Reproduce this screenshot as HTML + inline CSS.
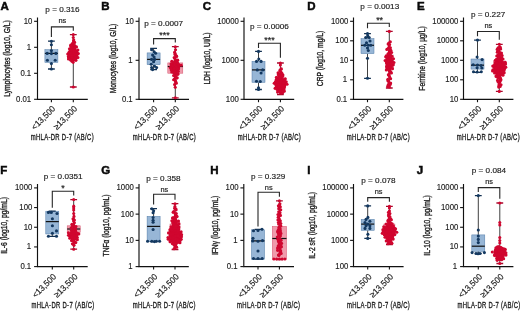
<!DOCTYPE html>
<html><head><meta charset="utf-8"><style>
html,body{margin:0;padding:0;background:#fff;}
svg{display:block;font-family:"Liberation Sans", sans-serif;filter:blur(0.3px);}
text{fill:#1c1c1c;stroke:#1c1c1c;stroke-width:0.18px;}
text.yl{stroke-width:0.35px;} text.pv{stroke-width:0.16px;} text.tk{stroke-width:0.14px;} text.xl{stroke-width:0.35px;}
text.L{fill:#0a0a0a;stroke:#0a0a0a;stroke-width:0.5px;}
</style></head><body>
<svg width="520" height="311" viewBox="0 0 520 311">
<rect width="520" height="311" fill="#fff"/>
<text x="0.61" y="9.9" font-size="11.5" font-weight="bold" class="L">A</text>
<text transform="translate(9.6,58.5) rotate(-90) scale(0.8,1)" text-anchor="middle" font-size="8.4" class="yl">Lymphocytes (log10, G/L)</text>
<path d="M37.5,17.5 V99.3 H87.8" fill="none" stroke="#111" stroke-width="1.15"/>
<path d="M34.1,21.30 H37.5" stroke="#111" stroke-width="1.1"/>
<text transform="translate(32.3,23.80) scale(0.95,1)" text-anchor="end" font-size="8.2" class="tk">10</text>
<path d="M34.1,47.30 H37.5" stroke="#111" stroke-width="1.1"/>
<text transform="translate(31.2,49.80) scale(0.95,1)" text-anchor="end" font-size="8.2" class="tk">1</text>
<path d="M34.1,73.30 H37.5" stroke="#111" stroke-width="1.1"/>
<text transform="translate(31.2,75.80) scale(0.95,1)" text-anchor="end" font-size="8.2" class="tk">0.1</text>
<path d="M34.1,99.30 H37.5" stroke="#111" stroke-width="1.1"/>
<text transform="translate(31.2,101.80) scale(0.95,1)" text-anchor="end" font-size="8.2" class="tk">0.01</text>
<path d="M51.4,99.3 V102.2" stroke="#111" stroke-width="1.1"/>
<path d="M73.3,99.3 V102.2" stroke="#111" stroke-width="1.1"/>
<text transform="translate(55.8,109.39999999999999) rotate(-45) scale(0.95,1)" text-anchor="end" font-size="8.6">&lt;13,500</text>
<text transform="translate(77.7,109.39999999999999) rotate(-45) scale(0.95,1)" text-anchor="end" font-size="8.6">≥13,500</text>
<text transform="translate(62.349999999999994,140.4) scale(0.63,1)" text-anchor="middle" font-size="9.4" letter-spacing="0.5" class="xl">mHLA-DR D-7 (AB/C)</text>
<text transform="translate(62.5,12.4) scale(1.05,1)" text-anchor="middle" font-size="7.8" class="pv">p = 0.316</text>
<text x="62.349999999999994" y="23.0" text-anchor="middle" font-size="7.4">ns</text>
<path d="M51.4,37.1 V26.9 H73.3 V30.7" fill="none" stroke="#262626" stroke-width="1.1"/>
<path d="M51.4,41.2 V49.7 M51.4,62.4 V69" stroke="#2a2a2a" stroke-width="0.9"/>
<rect x="44.9" y="49.7" width="13.0" height="12.699999999999996" fill="#97b6d6" stroke="#4f7aa6" stroke-width="0.5"/>
<path d="M44.9,53.4 H57.9" stroke="#111" stroke-width="1.2"/>
<path d="M48.0,41.2 H54.8 M48.0,69 H54.8" stroke="#123052" stroke-width="1.3"/>
<circle cx="51.40" cy="41.20" r="1.55" fill="#133860"/>
<circle cx="51.40" cy="44.70" r="1.55" fill="#133860"/>
<circle cx="51.40" cy="50.60" r="1.55" fill="#133860"/>
<circle cx="47.20" cy="53.40" r="1.55" fill="#133860"/>
<circle cx="51.40" cy="53.60" r="1.55" fill="#133860"/>
<circle cx="55.90" cy="53.40" r="1.55" fill="#133860"/>
<circle cx="47.40" cy="60.30" r="1.55" fill="#133860"/>
<circle cx="55.20" cy="60.30" r="1.55" fill="#133860"/>
<circle cx="51.40" cy="63.60" r="1.55" fill="#133860"/>
<circle cx="51.40" cy="69.00" r="1.55" fill="#133860"/>
<path d="M73.3,34.6 V50 M73.3,59 V87" stroke="#2a2a2a" stroke-width="0.9"/>
<rect x="68.8" y="50" width="9" height="9" fill="#ef9aab" stroke="#d8506c" stroke-width="0.5"/>
<path d="M68.8,54 H77.8" stroke="#111" stroke-width="1.2"/>
<path d="M69.89999999999999,34.6 H76.7 M69.89999999999999,87 H76.7" stroke="#a8082c" stroke-width="1.3"/>
<path d="M73.00,39.00 L73.00,41.00 L72.75,43.00 L71.49,46.00 L70.12,49.00 L69.08,52.00 L68.55,55.00 L69.08,58.00 L70.65,60.00 L72.75,62.00 L73.00,64.00 L73.60,64.00 L73.85,62.00 L75.95,60.00 L77.52,58.00 L78.05,55.00 L77.52,52.00 L76.47,49.00 L75.11,46.00 L73.85,43.00 L73.60,41.00 L73.60,39.00 Z" fill="#d0062f"/>
<circle cx="71.36" cy="52.91" r="1.55" fill="#d0062f"/>
<circle cx="74.69" cy="48.03" r="1.55" fill="#d0062f"/>
<circle cx="68.79" cy="57.22" r="1.55" fill="#d0062f"/>
<circle cx="73.00" cy="44.66" r="1.55" fill="#d0062f"/>
<circle cx="76.73" cy="55.03" r="1.55" fill="#d0062f"/>
<circle cx="70.42" cy="50.66" r="1.55" fill="#d0062f"/>
<circle cx="73.79" cy="59.59" r="1.55" fill="#d0062f"/>
<circle cx="74.65" cy="42.41" r="1.55" fill="#d0062f"/>
<circle cx="67.73" cy="54.03" r="1.55" fill="#d0062f"/>
<circle cx="72.07" cy="49.41" r="1.55" fill="#d0062f"/>
<circle cx="75.50" cy="58.34" r="1.55" fill="#d0062f"/>
<circle cx="70.86" cy="46.47" r="1.55" fill="#d0062f"/>
<circle cx="73.08" cy="56.09" r="1.55" fill="#d0062f"/>
<circle cx="76.82" cy="51.78" r="1.55" fill="#d0062f"/>
<circle cx="71.92" cy="61.16" r="1.55" fill="#d0062f"/>
<circle cx="73.51" cy="40.91" r="1.55" fill="#d0062f"/>
<circle cx="78.34" cy="53.47" r="1.55" fill="#d0062f"/>
<circle cx="69.48" cy="48.72" r="1.55" fill="#d0062f"/>
<circle cx="72.24" cy="57.78" r="1.55" fill="#d0062f"/>
<circle cx="74.79" cy="45.66" r="1.55" fill="#d0062f"/>
<circle cx="69.47" cy="55.59" r="1.55" fill="#d0062f"/>
<circle cx="73.50" cy="51.22" r="1.55" fill="#d0062f"/>
<circle cx="75.92" cy="60.34" r="1.55" fill="#d0062f"/>
<circle cx="72.38" cy="43.66" r="1.55" fill="#d0062f"/>
<circle cx="74.88" cy="54.53" r="1.55" fill="#d0062f"/>
<circle cx="77.91" cy="50.03" r="1.55" fill="#d0062f"/>
<circle cx="68.47" cy="58.91" r="1.55" fill="#d0062f"/>
<circle cx="72.12" cy="47.28" r="1.55" fill="#d0062f"/>
<circle cx="75.41" cy="56.66" r="1.55" fill="#d0062f"/>
<circle cx="68.99" cy="52.34" r="1.55" fill="#d0062f"/>
<circle cx="73.15" cy="62.28" r="1.55" fill="#d0062f"/>
<circle cx="73.79" cy="40.03" r="1.55" fill="#d0062f"/>
<circle cx="70.18" cy="53.22" r="1.55" fill="#d0062f"/>
<circle cx="73.89" cy="48.41" r="1.55" fill="#d0062f"/>
<circle cx="77.92" cy="57.47" r="1.55" fill="#d0062f"/>
<circle cx="70.69" cy="45.16" r="1.55" fill="#d0062f"/>
<circle cx="71.86" cy="55.34" r="1.55" fill="#d0062f"/>
<circle cx="75.59" cy="50.97" r="1.55" fill="#d0062f"/>
<circle cx="70.51" cy="59.97" r="1.55" fill="#d0062f"/>
<circle cx="73.28" cy="43.03" r="1.55" fill="#d0062f"/>
<circle cx="77.27" cy="54.28" r="1.55" fill="#d0062f"/>
<circle cx="71.08" cy="49.72" r="1.55" fill="#d0062f"/>
<circle cx="74.38" cy="58.66" r="1.55" fill="#d0062f"/>
<circle cx="76.51" cy="46.91" r="1.55" fill="#d0062f"/>
<circle cx="68.39" cy="56.41" r="1.55" fill="#d0062f"/>
<circle cx="73.30" cy="34.60" r="1.55" fill="#d0062f"/>
<circle cx="73.30" cy="37.50" r="1.55" fill="#d0062f"/>
<circle cx="73.30" cy="87.00" r="1.55" fill="#d0062f"/>
<text x="101.13" y="9.9" font-size="11.5" font-weight="bold" class="L">B</text>
<text transform="translate(116.1,58.5) rotate(-90) scale(0.8,1)" text-anchor="middle" font-size="8.4" class="yl">Monocytes (log10, G/L)</text>
<path d="M139,17.5 V99.3 H189" fill="none" stroke="#111" stroke-width="1.15"/>
<path d="M135.6,21.30 H139" stroke="#111" stroke-width="1.1"/>
<text transform="translate(133.8,23.80) scale(0.95,1)" text-anchor="end" font-size="8.2" class="tk">10</text>
<path d="M135.6,60.30 H139" stroke="#111" stroke-width="1.1"/>
<text transform="translate(132.7,62.80) scale(0.95,1)" text-anchor="end" font-size="8.2" class="tk">1</text>
<path d="M135.6,99.30 H139" stroke="#111" stroke-width="1.1"/>
<text transform="translate(132.7,101.80) scale(0.95,1)" text-anchor="end" font-size="8.2" class="tk">0.1</text>
<path d="M153.6,99.3 V102.2" stroke="#111" stroke-width="1.1"/>
<path d="M175.3,99.3 V102.2" stroke="#111" stroke-width="1.1"/>
<text transform="translate(158.0,109.39999999999999) rotate(-45) scale(0.95,1)" text-anchor="end" font-size="8.6">&lt;13,500</text>
<text transform="translate(179.70000000000002,109.39999999999999) rotate(-45) scale(0.95,1)" text-anchor="end" font-size="8.6">≥13,500</text>
<text transform="translate(164.45,140.4) scale(0.63,1)" text-anchor="middle" font-size="9.4" letter-spacing="0.5" class="xl">mHLA-DR D-7 (AB/C)</text>
<text transform="translate(163.7,25.5) scale(1.05,1)" text-anchor="middle" font-size="7.8" class="pv">p = 0.0007</text>
<text x="164.45" y="38.300000000000004" text-anchor="middle" font-size="8.9">***</text>
<path d="M153.6,44.6 V38.6 H175.3 V42.6" fill="none" stroke="#262626" stroke-width="1.1"/>
<path d="M153.6,48.3 V52.9 M153.6,64.7 V69.6" stroke="#2a2a2a" stroke-width="0.9"/>
<rect x="147.1" y="52.9" width="13.0" height="11.800000000000004" fill="#97b6d6" stroke="#4f7aa6" stroke-width="0.5"/>
<path d="M147.1,59.4 H160.1" stroke="#111" stroke-width="1.2"/>
<path d="M150.2,48.3 H157.0 M150.2,69.6 H157.0" stroke="#123052" stroke-width="1.3"/>
<circle cx="151.60" cy="49.80" r="1.55" fill="#133860"/>
<circle cx="154.10" cy="51.70" r="1.55" fill="#133860"/>
<circle cx="155.60" cy="53.20" r="1.55" fill="#133860"/>
<circle cx="152.60" cy="55.10" r="1.55" fill="#133860"/>
<circle cx="154.10" cy="57.00" r="1.55" fill="#133860"/>
<circle cx="151.60" cy="59.40" r="1.55" fill="#133860"/>
<circle cx="154.60" cy="59.40" r="1.55" fill="#133860"/>
<circle cx="153.60" cy="61.80" r="1.55" fill="#133860"/>
<circle cx="151.20" cy="64.30" r="1.55" fill="#133860"/>
<circle cx="154.60" cy="66.20" r="1.55" fill="#133860"/>
<circle cx="151.60" cy="67.60" r="1.55" fill="#133860"/>
<circle cx="156.60" cy="67.60" r="1.55" fill="#133860"/>
<circle cx="152.60" cy="69.60" r="1.55" fill="#133860"/>
<path d="M175.3,46.7 V62.9 M175.3,73.2 V97.8" stroke="#2a2a2a" stroke-width="0.9"/>
<rect x="167.8" y="62.9" width="15" height="10.300000000000004" fill="#ef9aab" stroke="#d8506c" stroke-width="0.5"/>
<path d="M167.8,66.5 H182.8" stroke="#111" stroke-width="1.2"/>
<path d="M171.9,46.7 H178.70000000000002 M171.9,97.8 H178.70000000000002" stroke="#a8082c" stroke-width="1.3"/>
<path d="M175.00,49.40 L175.00,53.00 L174.96,58.00 L172.65,62.00 L170.76,64.00 L170.34,67.00 L171.60,70.00 L173.28,73.00 L174.54,77.00 L175.00,81.00 L175.00,85.00 L175.00,88.00 L175.60,88.00 L175.60,85.00 L175.60,81.00 L176.06,77.00 L177.32,73.00 L179.00,70.00 L180.26,67.00 L179.84,64.00 L177.95,62.00 L175.64,58.00 L175.60,53.00 L175.60,49.40 Z" fill="#d0062f"/>
<circle cx="177.52" cy="71.06" r="1.55" fill="#d0062f"/>
<circle cx="171.44" cy="65.66" r="1.55" fill="#d0062f"/>
<circle cx="175.37" cy="80.81" r="1.55" fill="#d0062f"/>
<circle cx="176.29" cy="55.72" r="1.55" fill="#d0062f"/>
<circle cx="173.17" cy="69.52" r="1.55" fill="#d0062f"/>
<circle cx="176.91" cy="64.31" r="1.55" fill="#d0062f"/>
<circle cx="177.25" cy="77.72" r="1.55" fill="#d0062f"/>
<circle cx="171.78" cy="61.22" r="1.55" fill="#d0062f"/>
<circle cx="174.24" cy="72.90" r="1.55" fill="#d0062f"/>
<circle cx="177.64" cy="66.91" r="1.55" fill="#d0062f"/>
<circle cx="174.55" cy="84.57" r="1.55" fill="#d0062f"/>
<circle cx="175.22" cy="53.69" r="1.55" fill="#d0062f"/>
<circle cx="178.61" cy="68.84" r="1.55" fill="#d0062f"/>
<circle cx="172.36" cy="63.63" r="1.55" fill="#d0062f"/>
<circle cx="175.65" cy="76.28" r="1.55" fill="#d0062f"/>
<circle cx="177.75" cy="60.16" r="1.55" fill="#d0062f"/>
<circle cx="171.68" cy="71.93" r="1.55" fill="#d0062f"/>
<circle cx="173.88" cy="66.24" r="1.55" fill="#d0062f"/>
<circle cx="175.88" cy="82.55" r="1.55" fill="#d0062f"/>
<circle cx="174.17" cy="57.46" r="1.55" fill="#d0062f"/>
<circle cx="175.28" cy="70.29" r="1.55" fill="#d0062f"/>
<circle cx="179.35" cy="64.98" r="1.55" fill="#d0062f"/>
<circle cx="174.47" cy="79.17" r="1.55" fill="#d0062f"/>
<circle cx="176.23" cy="62.19" r="1.55" fill="#d0062f"/>
<circle cx="178.09" cy="73.96" r="1.55" fill="#d0062f"/>
<circle cx="170.23" cy="67.49" r="1.55" fill="#d0062f"/>
<circle cx="175.25" cy="87.18" r="1.55" fill="#d0062f"/>
<circle cx="175.54" cy="49.74" r="1.55" fill="#d0062f"/>
<circle cx="171.68" cy="67.78" r="1.55" fill="#d0062f"/>
<circle cx="175.62" cy="62.48" r="1.55" fill="#d0062f"/>
<circle cx="177.53" cy="74.35" r="1.55" fill="#d0062f"/>
<circle cx="174.63" cy="58.04" r="1.55" fill="#d0062f"/>
<circle cx="176.71" cy="70.58" r="1.55" fill="#d0062f"/>
<circle cx="181.20" cy="65.27" r="1.55" fill="#d0062f"/>
<circle cx="173.64" cy="79.75" r="1.55" fill="#d0062f"/>
<circle cx="174.97" cy="54.47" r="1.55" fill="#d0062f"/>
<circle cx="177.45" cy="69.13" r="1.55" fill="#d0062f"/>
<circle cx="171.05" cy="63.92" r="1.55" fill="#d0062f"/>
<circle cx="175.18" cy="76.76" r="1.55" fill="#d0062f"/>
<circle cx="177.29" cy="60.55" r="1.55" fill="#d0062f"/>
<circle cx="173.39" cy="72.32" r="1.55" fill="#d0062f"/>
<circle cx="176.37" cy="66.53" r="1.55" fill="#d0062f"/>
<circle cx="176.30" cy="83.32" r="1.55" fill="#d0062f"/>
<circle cx="174.57" cy="52.34" r="1.55" fill="#d0062f"/>
<circle cx="174.13" cy="68.46" r="1.55" fill="#d0062f"/>
<circle cx="177.75" cy="63.25" r="1.55" fill="#d0062f"/>
<circle cx="173.58" cy="75.50" r="1.55" fill="#d0062f"/>
<circle cx="175.35" cy="59.39" r="1.55" fill="#d0062f"/>
<circle cx="178.31" cy="71.35" r="1.55" fill="#d0062f"/>
<circle cx="172.66" cy="65.85" r="1.55" fill="#d0062f"/>
<circle cx="175.66" cy="81.49" r="1.55" fill="#d0062f"/>
<circle cx="176.67" cy="56.40" r="1.55" fill="#d0062f"/>
<circle cx="171.16" cy="69.81" r="1.55" fill="#d0062f"/>
<circle cx="174.53" cy="64.60" r="1.55" fill="#d0062f"/>
<circle cx="176.38" cy="78.21" r="1.55" fill="#d0062f"/>
<circle cx="175.30" cy="46.70" r="1.55" fill="#d0062f"/>
<circle cx="175.30" cy="97.80" r="1.55" fill="#d0062f"/>
<text x="202.73" y="9.9" font-size="11.5" font-weight="bold" class="L">C</text>
<text transform="translate(210.4,58.5) rotate(-90) scale(0.8,1)" text-anchor="middle" font-size="8.4" class="yl">LDH (log10, UI/L)</text>
<path d="M244,17.5 V99.3 H294.2" fill="none" stroke="#111" stroke-width="1.15"/>
<path d="M240.6,21.30 H244" stroke="#111" stroke-width="1.1"/>
<text transform="translate(238.8,23.80) scale(0.95,1)" text-anchor="end" font-size="8.2" class="tk">10000</text>
<path d="M240.6,60.30 H244" stroke="#111" stroke-width="1.1"/>
<text transform="translate(238.8,62.80) scale(0.95,1)" text-anchor="end" font-size="8.2" class="tk">1000</text>
<path d="M240.6,99.30 H244" stroke="#111" stroke-width="1.1"/>
<text transform="translate(238.8,101.80) scale(0.95,1)" text-anchor="end" font-size="8.2" class="tk">100</text>
<path d="M258.5,99.3 V102.2" stroke="#111" stroke-width="1.1"/>
<path d="M280.4,99.3 V102.2" stroke="#111" stroke-width="1.1"/>
<text transform="translate(262.9,109.39999999999999) rotate(-45) scale(0.95,1)" text-anchor="end" font-size="8.6">&lt;13,500</text>
<text transform="translate(284.79999999999995,109.39999999999999) rotate(-45) scale(0.95,1)" text-anchor="end" font-size="8.6">≥13,500</text>
<text transform="translate(269.45,140.4) scale(0.63,1)" text-anchor="middle" font-size="9.4" letter-spacing="0.5" class="xl">mHLA-DR D-7 (AB/C)</text>
<text transform="translate(269.4,29.0) scale(1.05,1)" text-anchor="middle" font-size="7.8" class="pv">p = 0.0006</text>
<text x="269.45" y="42.5" text-anchor="middle" font-size="8.9">***</text>
<path d="M258.5,48 V43.3 H280.4 V57.7" fill="none" stroke="#262626" stroke-width="1.1"/>
<path d="M258.5,51.4 V61.4 M258.5,82.3 V89.5" stroke="#2a2a2a" stroke-width="0.9"/>
<rect x="252.0" y="61.4" width="13.0" height="20.9" fill="#97b6d6" stroke="#4f7aa6" stroke-width="0.5"/>
<path d="M252.0,69.9 H265.0" stroke="#111" stroke-width="1.2"/>
<path d="M255.1,51.4 H261.9 M255.1,89.5 H261.9" stroke="#123052" stroke-width="1.3"/>
<circle cx="258.50" cy="51.40" r="1.55" fill="#133860"/>
<circle cx="258.80" cy="59.10" r="1.55" fill="#133860"/>
<circle cx="256.50" cy="61.40" r="1.55" fill="#133860"/>
<circle cx="261.10" cy="61.40" r="1.55" fill="#133860"/>
<circle cx="257.30" cy="69.90" r="1.55" fill="#133860"/>
<circle cx="262.70" cy="69.90" r="1.55" fill="#133860"/>
<circle cx="261.10" cy="73.00" r="1.55" fill="#133860"/>
<circle cx="256.50" cy="81.20" r="1.55" fill="#133860"/>
<circle cx="260.30" cy="81.50" r="1.55" fill="#133860"/>
<circle cx="258.50" cy="87.70" r="1.55" fill="#133860"/>
<circle cx="258.50" cy="89.50" r="1.55" fill="#133860"/>
<path d="M280.4,63 V78 M280.4,89 V94.5" stroke="#2a2a2a" stroke-width="0.9"/>
<rect x="275.4" y="78" width="10" height="11" fill="#ef9aab" stroke="#d8506c" stroke-width="0.5"/>
<path d="M275.4,84 H285.4" stroke="#111" stroke-width="1.2"/>
<path d="M277.0,63 H283.79999999999995 M277.0,94.5 H283.79999999999995" stroke="#a8082c" stroke-width="1.3"/>
<path d="M280.10,67.00 L280.00,71.00 L278.80,74.00 L277.60,77.00 L276.40,80.00 L274.60,83.00 L274.60,86.00 L277.00,89.00 L278.20,92.00 L280.00,94.00 L280.80,94.00 L282.60,92.00 L283.80,89.00 L286.20,86.00 L286.20,83.00 L284.40,80.00 L283.20,77.00 L282.00,74.00 L280.80,71.00 L280.70,67.00 Z" fill="#d0062f"/>
<circle cx="275.60" cy="84.04" r="1.55" fill="#d0062f"/>
<circle cx="280.42" cy="79.18" r="1.55" fill="#d0062f"/>
<circle cx="283.81" cy="88.70" r="1.55" fill="#d0062f"/>
<circle cx="278.73" cy="75.88" r="1.55" fill="#d0062f"/>
<circle cx="282.00" cy="86.20" r="1.55" fill="#d0062f"/>
<circle cx="286.23" cy="81.82" r="1.55" fill="#d0062f"/>
<circle cx="277.51" cy="92.08" r="1.55" fill="#d0062f"/>
<circle cx="280.19" cy="69.80" r="1.55" fill="#d0062f"/>
<circle cx="284.18" cy="83.50" r="1.55" fill="#d0062f"/>
<circle cx="277.57" cy="78.44" r="1.55" fill="#d0062f"/>
<circle cx="280.84" cy="88.03" r="1.55" fill="#d0062f"/>
<circle cx="282.94" cy="74.93" r="1.55" fill="#d0062f"/>
<circle cx="277.75" cy="85.66" r="1.55" fill="#d0062f"/>
<circle cx="282.25" cy="81.21" r="1.55" fill="#d0062f"/>
<circle cx="284.25" cy="91.13" r="1.55" fill="#d0062f"/>
<circle cx="278.05" cy="72.70" r="1.55" fill="#d0062f"/>
<circle cx="278.46" cy="84.58" r="1.55" fill="#d0062f"/>
<circle cx="282.55" cy="79.86" r="1.55" fill="#d0062f"/>
<circle cx="277.10" cy="89.51" r="1.55" fill="#d0062f"/>
<circle cx="280.21" cy="76.82" r="1.55" fill="#d0062f"/>
<circle cx="284.53" cy="86.74" r="1.55" fill="#d0062f"/>
<circle cx="277.04" cy="82.36" r="1.55" fill="#d0062f"/>
<circle cx="280.86" cy="93.16" r="1.55" fill="#d0062f"/>
<circle cx="281.42" cy="68.92" r="1.55" fill="#d0062f"/>
<circle cx="274.18" cy="83.23" r="1.55" fill="#d0062f"/>
<circle cx="279.50" cy="78.04" r="1.55" fill="#d0062f"/>
<circle cx="283.19" cy="87.69" r="1.55" fill="#d0062f"/>
<circle cx="278.35" cy="74.46" r="1.55" fill="#d0062f"/>
<circle cx="280.61" cy="85.39" r="1.55" fill="#d0062f"/>
<circle cx="284.55" cy="80.87" r="1.55" fill="#d0062f"/>
<circle cx="278.68" cy="90.73" r="1.55" fill="#d0062f"/>
<circle cx="280.97" cy="72.10" r="1.55" fill="#d0062f"/>
<circle cx="287.04" cy="84.31" r="1.55" fill="#d0062f"/>
<circle cx="276.28" cy="79.52" r="1.55" fill="#d0062f"/>
<circle cx="279.83" cy="89.11" r="1.55" fill="#d0062f"/>
<circle cx="282.58" cy="76.35" r="1.55" fill="#d0062f"/>
<circle cx="276.53" cy="86.47" r="1.55" fill="#d0062f"/>
<circle cx="281.09" cy="82.09" r="1.55" fill="#d0062f"/>
<circle cx="282.77" cy="92.62" r="1.55" fill="#d0062f"/>
<circle cx="279.81" cy="70.68" r="1.55" fill="#d0062f"/>
<circle cx="282.75" cy="83.77" r="1.55" fill="#d0062f"/>
<circle cx="285.31" cy="78.78" r="1.55" fill="#d0062f"/>
<circle cx="275.07" cy="88.36" r="1.55" fill="#d0062f"/>
<circle cx="279.21" cy="75.40" r="1.55" fill="#d0062f"/>
<circle cx="282.83" cy="85.93" r="1.55" fill="#d0062f"/>
<circle cx="275.50" cy="81.48" r="1.55" fill="#d0062f"/>
<circle cx="279.99" cy="91.60" r="1.55" fill="#d0062f"/>
<circle cx="281.94" cy="73.31" r="1.55" fill="#d0062f"/>
<circle cx="276.40" cy="84.85" r="1.55" fill="#d0062f"/>
<circle cx="281.03" cy="80.20" r="1.55" fill="#d0062f"/>
<circle cx="283.89" cy="89.92" r="1.55" fill="#d0062f"/>
<circle cx="276.40" cy="77.23" r="1.55" fill="#d0062f"/>
<circle cx="278.77" cy="87.08" r="1.55" fill="#d0062f"/>
<circle cx="283.29" cy="82.69" r="1.55" fill="#d0062f"/>
<circle cx="280.40" cy="63.00" r="1.55" fill="#d0062f"/>
<circle cx="280.40" cy="65.00" r="1.55" fill="#d0062f"/>
<text x="307.23" y="9.9" font-size="11.5" font-weight="bold" class="L">D</text>
<text transform="translate(323.0,58.5) rotate(-90) scale(0.8,1)" text-anchor="middle" font-size="8.4" class="yl">CRP (log10, mg/L)</text>
<path d="M353.5,17.5 V99.3 H403.4" fill="none" stroke="#111" stroke-width="1.15"/>
<path d="M350.1,21.30 H353.5" stroke="#111" stroke-width="1.1"/>
<text transform="translate(348.3,23.80) scale(0.95,1)" text-anchor="end" font-size="8.2" class="tk">1000</text>
<path d="M350.1,40.80 H353.5" stroke="#111" stroke-width="1.1"/>
<text transform="translate(348.3,43.30) scale(0.95,1)" text-anchor="end" font-size="8.2" class="tk">100</text>
<path d="M350.1,60.30 H353.5" stroke="#111" stroke-width="1.1"/>
<text transform="translate(348.3,62.80) scale(0.95,1)" text-anchor="end" font-size="8.2" class="tk">10</text>
<path d="M350.1,79.80 H353.5" stroke="#111" stroke-width="1.1"/>
<text transform="translate(347.2,82.30) scale(0.95,1)" text-anchor="end" font-size="8.2" class="tk">1</text>
<path d="M350.1,99.30 H353.5" stroke="#111" stroke-width="1.1"/>
<text transform="translate(347.2,101.80) scale(0.95,1)" text-anchor="end" font-size="8.2" class="tk">0.1</text>
<path d="M367.5,99.3 V102.2" stroke="#111" stroke-width="1.1"/>
<path d="M389.3,99.3 V102.2" stroke="#111" stroke-width="1.1"/>
<text transform="translate(371.9,109.39999999999999) rotate(-45) scale(0.95,1)" text-anchor="end" font-size="8.6">&lt;13,500</text>
<text transform="translate(393.7,109.39999999999999) rotate(-45) scale(0.95,1)" text-anchor="end" font-size="8.6">≥13,500</text>
<text transform="translate(378.4,140.4) scale(0.63,1)" text-anchor="middle" font-size="9.4" letter-spacing="0.5" class="xl">mHLA-DR D-7 (AB/C)</text>
<text transform="translate(379.75,9.1) scale(1.05,1)" text-anchor="middle" font-size="7.8" class="pv">p = 0.0013</text>
<text x="379.59999999999997" y="22.9" text-anchor="middle" font-size="8.9">**</text>
<path d="M367.5,28.2 V23.3 H389.3 V26.9" fill="none" stroke="#262626" stroke-width="1.1"/>
<path d="M367.5,33.6 V38.7 M367.5,53.6 V78.3" stroke="#2a2a2a" stroke-width="0.9"/>
<rect x="361.0" y="38.7" width="13.0" height="14.899999999999999" fill="#97b6d6" stroke="#4f7aa6" stroke-width="0.5"/>
<path d="M361.0,45.3 H374.0" stroke="#111" stroke-width="1.2"/>
<path d="M364.1,33.6 H370.9 M364.1,78.3 H370.9" stroke="#123052" stroke-width="1.3"/>
<circle cx="367.50" cy="33.60" r="1.55" fill="#133860"/>
<circle cx="367.70" cy="35.80" r="1.55" fill="#133860"/>
<circle cx="365.70" cy="37.50" r="1.55" fill="#133860"/>
<circle cx="369.20" cy="37.50" r="1.55" fill="#133860"/>
<circle cx="370.00" cy="41.00" r="1.55" fill="#133860"/>
<circle cx="366.50" cy="42.70" r="1.55" fill="#133860"/>
<circle cx="364.80" cy="45.30" r="1.55" fill="#133860"/>
<circle cx="368.30" cy="45.30" r="1.55" fill="#133860"/>
<circle cx="370.80" cy="45.30" r="1.55" fill="#133860"/>
<circle cx="367.50" cy="48.00" r="1.55" fill="#133860"/>
<circle cx="368.30" cy="50.50" r="1.55" fill="#133860"/>
<circle cx="367.50" cy="58.30" r="1.55" fill="#133860"/>
<circle cx="367.50" cy="78.30" r="1.55" fill="#133860"/>
<path d="M389.3,31.4 V55 M389.3,68 V88" stroke="#2a2a2a" stroke-width="0.9"/>
<rect x="385.3" y="55" width="8" height="13" fill="#ef9aab" stroke="#d8506c" stroke-width="0.5"/>
<path d="M385.3,61 H393.3" stroke="#111" stroke-width="1.2"/>
<path d="M385.90000000000003,31.4 H392.7 M385.90000000000003,88 H392.7" stroke="#a8082c" stroke-width="1.3"/>
<path d="M389.00,41.00 L388.90,45.00 L388.30,49.00 L387.70,53.00 L386.50,57.00 L385.66,61.00 L385.90,65.00 L387.10,69.00 L388.54,73.00 L388.90,77.00 L388.90,81.00 L388.54,85.00 L389.00,88.00 L389.60,88.00 L390.06,85.00 L389.70,81.00 L389.70,77.00 L390.06,73.00 L391.50,69.00 L392.70,65.00 L392.94,61.00 L392.10,57.00 L390.90,53.00 L390.30,49.00 L389.70,45.00 L389.60,41.00 Z" fill="#d0062f"/>
<circle cx="389.11" cy="70.32" r="1.55" fill="#d0062f"/>
<circle cx="392.36" cy="61.74" r="1.55" fill="#d0062f"/>
<circle cx="388.20" cy="84.89" r="1.55" fill="#d0062f"/>
<circle cx="389.59" cy="44.47" r="1.55" fill="#d0062f"/>
<circle cx="393.33" cy="64.68" r="1.55" fill="#d0062f"/>
<circle cx="385.68" cy="56.69" r="1.55" fill="#d0062f"/>
<circle cx="388.89" cy="75.25" r="1.55" fill="#d0062f"/>
<circle cx="390.59" cy="51.40" r="1.55" fill="#d0062f"/>
<circle cx="386.94" cy="69.02" r="1.55" fill="#d0062f"/>
<circle cx="389.38" cy="60.80" r="1.55" fill="#d0062f"/>
<circle cx="390.68" cy="83.12" r="1.55" fill="#d0062f"/>
<circle cx="388.30" cy="48.23" r="1.55" fill="#d0062f"/>
<circle cx="390.33" cy="66.67" r="1.55" fill="#d0062f"/>
<circle cx="393.47" cy="58.80" r="1.55" fill="#d0062f"/>
<circle cx="387.83" cy="79.25" r="1.55" fill="#d0062f"/>
<circle cx="388.85" cy="54.22" r="1.55" fill="#d0062f"/>
<circle cx="390.72" cy="71.73" r="1.55" fill="#d0062f"/>
<circle cx="386.43" cy="62.68" r="1.55" fill="#d0062f"/>
<circle cx="389.43" cy="86.88" r="1.55" fill="#d0062f"/>
<circle cx="390.32" cy="41.76" r="1.55" fill="#d0062f"/>
<circle cx="387.55" cy="63.38" r="1.55" fill="#d0062f"/>
<circle cx="390.45" cy="55.16" r="1.55" fill="#d0062f"/>
<circle cx="391.45" cy="73.02" r="1.55" fill="#d0062f"/>
<circle cx="386.83" cy="49.40" r="1.55" fill="#d0062f"/>
<circle cx="387.98" cy="67.50" r="1.55" fill="#d0062f"/>
<circle cx="390.94" cy="59.51" r="1.55" fill="#d0062f"/>
<circle cx="387.89" cy="80.66" r="1.55" fill="#d0062f"/>
<circle cx="389.10" cy="45.99" r="1.55" fill="#d0062f"/>
<circle cx="391.98" cy="65.38" r="1.55" fill="#d0062f"/>
<circle cx="386.93" cy="57.51" r="1.55" fill="#d0062f"/>
<circle cx="389.53" cy="76.78" r="1.55" fill="#d0062f"/>
<circle cx="391.63" cy="52.46" r="1.55" fill="#d0062f"/>
<circle cx="386.29" cy="69.96" r="1.55" fill="#d0062f"/>
<circle cx="388.05" cy="61.50" r="1.55" fill="#d0062f"/>
<circle cx="390.20" cy="84.53" r="1.55" fill="#d0062f"/>
<circle cx="388.13" cy="44.00" r="1.55" fill="#d0062f"/>
<circle cx="389.17" cy="64.44" r="1.55" fill="#d0062f"/>
<circle cx="391.89" cy="56.33" r="1.55" fill="#d0062f"/>
<circle cx="388.34" cy="74.78" r="1.55" fill="#d0062f"/>
<circle cx="389.84" cy="51.05" r="1.55" fill="#d0062f"/>
<circle cx="392.52" cy="68.67" r="1.55" fill="#d0062f"/>
<circle cx="385.11" cy="60.56" r="1.55" fill="#d0062f"/>
<circle cx="388.95" cy="82.65" r="1.55" fill="#d0062f"/>
<circle cx="390.41" cy="47.76" r="1.55" fill="#d0062f"/>
<circle cx="386.57" cy="66.44" r="1.55" fill="#d0062f"/>
<circle cx="389.52" cy="58.57" r="1.55" fill="#d0062f"/>
<circle cx="390.61" cy="78.66" r="1.55" fill="#d0062f"/>
<circle cx="387.99" cy="53.87" r="1.55" fill="#d0062f"/>
<circle cx="390.05" cy="71.37" r="1.55" fill="#d0062f"/>
<circle cx="393.98" cy="62.44" r="1.55" fill="#d0062f"/>
<circle cx="387.73" cy="86.41" r="1.55" fill="#d0062f"/>
<circle cx="388.85" cy="42.94" r="1.55" fill="#d0062f"/>
<circle cx="391.11" cy="63.85" r="1.55" fill="#d0062f"/>
<circle cx="386.43" cy="55.75" r="1.55" fill="#d0062f"/>
<circle cx="389.14" cy="73.96" r="1.55" fill="#d0062f"/>
<circle cx="390.85" cy="50.22" r="1.55" fill="#d0062f"/>
<circle cx="387.27" cy="68.08" r="1.55" fill="#d0062f"/>
<circle cx="389.30" cy="31.40" r="1.55" fill="#d0062f"/>
<text x="416.93" y="9.9" font-size="11.5" font-weight="bold" class="L">E</text>
<text transform="translate(424.6,58.5) rotate(-90) scale(0.8,1)" text-anchor="middle" font-size="8.4" class="yl">Ferritine (log10, µg/L)</text>
<path d="M463.5,17.5 V99.3 H513.4" fill="none" stroke="#111" stroke-width="1.15"/>
<path d="M460.1,21.30 H463.5" stroke="#111" stroke-width="1.1"/>
<text transform="translate(458.3,23.80) scale(0.95,1)" text-anchor="end" font-size="8.2" class="tk">100000</text>
<path d="M460.1,40.80 H463.5" stroke="#111" stroke-width="1.1"/>
<text transform="translate(458.3,43.30) scale(0.95,1)" text-anchor="end" font-size="8.2" class="tk">10000</text>
<path d="M460.1,60.30 H463.5" stroke="#111" stroke-width="1.1"/>
<text transform="translate(458.3,62.80) scale(0.95,1)" text-anchor="end" font-size="8.2" class="tk">1000</text>
<path d="M460.1,79.80 H463.5" stroke="#111" stroke-width="1.1"/>
<text transform="translate(458.3,82.30) scale(0.95,1)" text-anchor="end" font-size="8.2" class="tk">100</text>
<path d="M460.1,99.30 H463.5" stroke="#111" stroke-width="1.1"/>
<text transform="translate(458.3,101.80) scale(0.95,1)" text-anchor="end" font-size="8.2" class="tk">10</text>
<path d="M477.5,99.3 V102.2" stroke="#111" stroke-width="1.1"/>
<path d="M499.3,99.3 V102.2" stroke="#111" stroke-width="1.1"/>
<text transform="translate(481.9,109.39999999999999) rotate(-45) scale(0.95,1)" text-anchor="end" font-size="8.6">&lt;13,500</text>
<text transform="translate(503.7,109.39999999999999) rotate(-45) scale(0.95,1)" text-anchor="end" font-size="8.6">≥13,500</text>
<text transform="translate(488.4,140.4) scale(0.63,1)" text-anchor="middle" font-size="9.4" letter-spacing="0.5" class="xl">mHLA-DR D-7 (AB/C)</text>
<text transform="translate(488.1,17.1) scale(1.05,1)" text-anchor="middle" font-size="7.8" class="pv">p = 0.227</text>
<text x="488.4" y="28.3" text-anchor="middle" font-size="7.4">ns</text>
<path d="M477.5,36.2 V31.5 H499.3 V39.8" fill="none" stroke="#262626" stroke-width="1.1"/>
<path d="M477.5,40.1 V59 M477.5,69.1 V72.3" stroke="#2a2a2a" stroke-width="0.9"/>
<rect x="471.0" y="59" width="13.0" height="10.099999999999994" fill="#97b6d6" stroke="#4f7aa6" stroke-width="0.5"/>
<path d="M471.0,65.2 H484.0" stroke="#111" stroke-width="1.2"/>
<path d="M474.1,40.1 H480.9 M474.1,72.3 H480.9" stroke="#123052" stroke-width="1.3"/>
<circle cx="477.50" cy="40.10" r="1.55" fill="#133860"/>
<circle cx="477.10" cy="57.00" r="1.55" fill="#133860"/>
<circle cx="482.10" cy="59.60" r="1.55" fill="#133860"/>
<circle cx="473.20" cy="64.80" r="1.55" fill="#133860"/>
<circle cx="477.50" cy="65.00" r="1.55" fill="#133860"/>
<circle cx="481.10" cy="65.50" r="1.55" fill="#133860"/>
<circle cx="477.10" cy="67.80" r="1.55" fill="#133860"/>
<circle cx="481.80" cy="68.00" r="1.55" fill="#133860"/>
<circle cx="473.50" cy="71.80" r="1.55" fill="#133860"/>
<circle cx="477.10" cy="72.00" r="1.55" fill="#133860"/>
<circle cx="481.30" cy="71.80" r="1.55" fill="#133860"/>
<path d="M499.3,44.3 V61 M499.3,72 V91.4" stroke="#2a2a2a" stroke-width="0.9"/>
<rect x="493.55" y="61" width="11.5" height="11" fill="#ef9aab" stroke="#d8506c" stroke-width="0.5"/>
<path d="M493.55,67 H505.05" stroke="#111" stroke-width="1.2"/>
<path d="M495.90000000000003,44.3 H502.7 M495.90000000000003,91.4 H502.7" stroke="#a8082c" stroke-width="1.3"/>
<path d="M498.54,46.00 L498.54,49.00 L498.06,52.00 L497.94,55.00 L497.34,58.00 L495.30,61.00 L493.50,64.00 L493.50,67.00 L493.50,70.00 L494.70,73.00 L497.10,76.00 L498.30,79.00 L498.90,82.00 L498.90,85.00 L499.00,88.00 L499.60,88.00 L499.70,85.00 L499.70,82.00 L500.30,79.00 L501.50,76.00 L503.90,73.00 L505.10,70.00 L505.10,67.00 L505.10,64.00 L503.30,61.00 L501.26,58.00 L500.66,55.00 L500.54,52.00 L500.06,49.00 L500.06,46.00 Z" fill="#d0062f"/>
<circle cx="504.83" cy="67.79" r="1.55" fill="#d0062f"/>
<circle cx="497.42" cy="60.96" r="1.55" fill="#d0062f"/>
<circle cx="500.76" cy="74.82" r="1.55" fill="#d0062f"/>
<circle cx="502.18" cy="55.61" r="1.55" fill="#d0062f"/>
<circle cx="492.57" cy="70.94" r="1.55" fill="#d0062f"/>
<circle cx="497.03" cy="64.53" r="1.55" fill="#d0062f"/>
<circle cx="499.99" cy="81.33" r="1.55" fill="#d0062f"/>
<circle cx="497.26" cy="52.14" r="1.55" fill="#d0062f"/>
<circle cx="498.63" cy="69.36" r="1.55" fill="#d0062f"/>
<circle cx="503.06" cy="62.85" r="1.55" fill="#d0062f"/>
<circle cx="497.68" cy="77.55" r="1.55" fill="#d0062f"/>
<circle cx="499.80" cy="58.65" r="1.55" fill="#d0062f"/>
<circle cx="504.20" cy="72.72" r="1.55" fill="#d0062f"/>
<circle cx="492.74" cy="66.11" r="1.55" fill="#d0062f"/>
<circle cx="498.90" cy="85.85" r="1.55" fill="#d0062f"/>
<circle cx="500.24" cy="47.42" r="1.55" fill="#d0062f"/>
<circle cx="494.35" cy="67.37" r="1.55" fill="#d0062f"/>
<circle cx="499.21" cy="60.44" r="1.55" fill="#d0062f"/>
<circle cx="502.60" cy="74.19" r="1.55" fill="#d0062f"/>
<circle cx="498.01" cy="54.77" r="1.55" fill="#d0062f"/>
<circle cx="500.74" cy="70.52" r="1.55" fill="#d0062f"/>
<circle cx="505.60" cy="64.11" r="1.55" fill="#d0062f"/>
<circle cx="497.50" cy="80.39" r="1.55" fill="#d0062f"/>
<circle cx="498.87" cy="51.30" r="1.55" fill="#d0062f"/>
<circle cx="502.92" cy="68.94" r="1.55" fill="#d0062f"/>
<circle cx="495.46" cy="62.43" r="1.55" fill="#d0062f"/>
<circle cx="499.49" cy="76.82" r="1.55" fill="#d0062f"/>
<circle cx="501.74" cy="57.92" r="1.55" fill="#d0062f"/>
<circle cx="496.85" cy="72.30" r="1.55" fill="#d0062f"/>
<circle cx="501.32" cy="65.69" r="1.55" fill="#d0062f"/>
<circle cx="501.04" cy="84.80" r="1.55" fill="#d0062f"/>
<circle cx="497.14" cy="49.41" r="1.55" fill="#d0062f"/>
<circle cx="497.21" cy="68.10" r="1.55" fill="#d0062f"/>
<circle cx="501.46" cy="61.49" r="1.55" fill="#d0062f"/>
<circle cx="496.31" cy="75.45" r="1.55" fill="#d0062f"/>
<circle cx="499.09" cy="56.45" r="1.55" fill="#d0062f"/>
<circle cx="503.31" cy="71.36" r="1.55" fill="#d0062f"/>
<circle cx="495.60" cy="64.95" r="1.55" fill="#d0062f"/>
<circle cx="499.58" cy="82.49" r="1.55" fill="#d0062f"/>
<circle cx="501.54" cy="53.09" r="1.55" fill="#d0062f"/>
<circle cx="492.92" cy="69.78" r="1.55" fill="#d0062f"/>
<circle cx="497.84" cy="63.27" r="1.55" fill="#d0062f"/>
<circle cx="500.51" cy="78.39" r="1.55" fill="#d0062f"/>
<circle cx="496.48" cy="59.28" r="1.55" fill="#d0062f"/>
<circle cx="499.34" cy="73.25" r="1.55" fill="#d0062f"/>
<circle cx="504.17" cy="66.53" r="1.55" fill="#d0062f"/>
<circle cx="498.68" cy="87.11" r="1.55" fill="#d0062f"/>
<circle cx="499.80" cy="46.89" r="1.55" fill="#d0062f"/>
<circle cx="505.78" cy="67.16" r="1.55" fill="#d0062f"/>
<circle cx="495.33" cy="60.23" r="1.55" fill="#d0062f"/>
<circle cx="498.56" cy="73.98" r="1.55" fill="#d0062f"/>
<circle cx="500.76" cy="54.35" r="1.55" fill="#d0062f"/>
<circle cx="495.13" cy="70.31" r="1.55" fill="#d0062f"/>
<circle cx="499.88" cy="63.90" r="1.55" fill="#d0062f"/>
<circle cx="500.99" cy="79.86" r="1.55" fill="#d0062f"/>
<circle cx="498.40" cy="50.78" r="1.55" fill="#d0062f"/>
<circle cx="501.49" cy="68.73" r="1.55" fill="#d0062f"/>
<circle cx="505.28" cy="62.22" r="1.55" fill="#d0062f"/>
<circle cx="496.06" cy="76.40" r="1.55" fill="#d0062f"/>
<circle cx="498.42" cy="57.60" r="1.55" fill="#d0062f"/>
<circle cx="501.87" cy="72.09" r="1.55" fill="#d0062f"/>
<circle cx="494.17" cy="65.58" r="1.55" fill="#d0062f"/>
<circle cx="499.22" cy="84.17" r="1.55" fill="#d0062f"/>
<circle cx="500.67" cy="48.89" r="1.55" fill="#d0062f"/>
<circle cx="495.78" cy="67.89" r="1.55" fill="#d0062f"/>
<circle cx="500.31" cy="61.28" r="1.55" fill="#d0062f"/>
<circle cx="502.96" cy="75.14" r="1.55" fill="#d0062f"/>
<circle cx="496.73" cy="56.03" r="1.55" fill="#d0062f"/>
<circle cx="498.01" cy="71.15" r="1.55" fill="#d0062f"/>
<circle cx="502.75" cy="64.74" r="1.55" fill="#d0062f"/>
<circle cx="498.13" cy="81.96" r="1.55" fill="#d0062f"/>
<circle cx="499.39" cy="52.56" r="1.55" fill="#d0062f"/>
<circle cx="504.35" cy="69.57" r="1.55" fill="#d0062f"/>
<circle cx="496.54" cy="63.06" r="1.55" fill="#d0062f"/>
<circle cx="500.02" cy="77.97" r="1.55" fill="#d0062f"/>
<circle cx="503.03" cy="58.97" r="1.55" fill="#d0062f"/>
<circle cx="494.55" cy="72.93" r="1.55" fill="#d0062f"/>
<circle cx="498.46" cy="66.32" r="1.55" fill="#d0062f"/>
<circle cx="500.15" cy="86.48" r="1.55" fill="#d0062f"/>
<circle cx="498.07" cy="47.84" r="1.55" fill="#d0062f"/>
<circle cx="499.30" cy="44.30" r="1.55" fill="#d0062f"/>
<circle cx="499.30" cy="91.40" r="1.55" fill="#d0062f"/>
<text x="0.23" y="173.7" font-size="11.5" font-weight="bold" class="L">F</text>
<text transform="translate(6.5,225.45000000000002) rotate(-90) scale(0.8,1)" text-anchor="middle" font-size="8.4" class="yl">IL-6 (log10, pg/mL)</text>
<path d="M37.5,184.1 V266.6 H87.7" fill="none" stroke="#111" stroke-width="1.15"/>
<path d="M34.1,187.90 H37.5" stroke="#111" stroke-width="1.1"/>
<text transform="translate(32.3,190.40) scale(0.95,1)" text-anchor="end" font-size="8.2" class="tk">1000</text>
<path d="M34.1,207.58 H37.5" stroke="#111" stroke-width="1.1"/>
<text transform="translate(32.3,210.08) scale(0.95,1)" text-anchor="end" font-size="8.2" class="tk">100</text>
<path d="M34.1,227.25 H37.5" stroke="#111" stroke-width="1.1"/>
<text transform="translate(32.3,229.75) scale(0.95,1)" text-anchor="end" font-size="8.2" class="tk">10</text>
<path d="M34.1,246.93 H37.5" stroke="#111" stroke-width="1.1"/>
<text transform="translate(31.2,249.43) scale(0.95,1)" text-anchor="end" font-size="8.2" class="tk">1</text>
<path d="M34.1,266.60 H37.5" stroke="#111" stroke-width="1.1"/>
<text transform="translate(31.2,269.10) scale(0.95,1)" text-anchor="end" font-size="8.2" class="tk">0.1</text>
<path d="M52.3,266.6 V269.5" stroke="#111" stroke-width="1.1"/>
<path d="M73.7,266.6 V269.5" stroke="#111" stroke-width="1.1"/>
<text transform="translate(56.699999999999996,277.30000000000007) rotate(-45) scale(0.95,1)" text-anchor="end" font-size="8.6">&lt;13,500</text>
<text transform="translate(78.10000000000001,277.30000000000007) rotate(-45) scale(0.95,1)" text-anchor="end" font-size="8.6">≥13,500</text>
<text transform="translate(63.0,308.30000000000007) scale(0.63,1)" text-anchor="middle" font-size="9.4" letter-spacing="0.5" class="xl">mHLA-DR D-7 (AB/C)</text>
<text transform="translate(63.2,178.6) scale(1.05,1)" text-anchor="middle" font-size="7.8" class="pv">p = 0.0351</text>
<text x="63.0" y="191.29999999999998" text-anchor="middle" font-size="8.9">*</text>
<path d="M52.3,207.8 V191.3 H73.7 V195.4" fill="none" stroke="#262626" stroke-width="1.1"/>
<path d="M52.3,211.2 V211.2 M52.3,234 V236.3" stroke="#2a2a2a" stroke-width="0.9"/>
<rect x="45.8" y="211.2" width="13.0" height="22.80000000000001" fill="#97b6d6" stroke="#4f7aa6" stroke-width="0.5"/>
<path d="M45.8,221.6 H58.8" stroke="#111" stroke-width="1.2"/>
<path d="M48.9,211.2 H55.699999999999996 M48.9,236.3 H55.699999999999996" stroke="#123052" stroke-width="1.3"/>
<circle cx="48.40" cy="212.40" r="1.55" fill="#133860"/>
<circle cx="51.30" cy="212.40" r="1.55" fill="#133860"/>
<circle cx="57.00" cy="213.50" r="1.55" fill="#133860"/>
<circle cx="52.40" cy="218.70" r="1.55" fill="#133860"/>
<circle cx="52.40" cy="225.70" r="1.55" fill="#133860"/>
<circle cx="56.50" cy="230.90" r="1.55" fill="#133860"/>
<circle cx="52.40" cy="233.20" r="1.55" fill="#133860"/>
<circle cx="48.40" cy="236.30" r="1.55" fill="#133860"/>
<circle cx="56.50" cy="236.30" r="1.55" fill="#133860"/>
<path d="M73.7,199.6 V225.8 M73.7,232.5 V249.2" stroke="#2a2a2a" stroke-width="0.9"/>
<rect x="67.2" y="225.8" width="13.0" height="6.699999999999989" fill="#ef9aab" stroke="#d8506c" stroke-width="0.5"/>
<path d="M67.2,229 H80.2" stroke="#111" stroke-width="1.2"/>
<path d="M70.3,199.6 H77.10000000000001 M70.3,249.2 H77.10000000000001" stroke="#a8082c" stroke-width="1.3"/>
<path d="M73.40,206.00 L73.40,210.00 L73.40,214.00 L73.40,218.00 L73.40,222.00 L72.70,226.00 L71.74,230.00 L68.74,234.00 L69.70,237.00 L71.50,240.00 L72.94,243.00 L73.40,245.50 L74.00,245.50 L74.46,243.00 L75.90,240.00 L77.70,237.00 L78.66,234.00 L75.66,230.00 L74.70,226.00 L74.00,222.00 L74.00,218.00 L74.00,214.00 L74.00,210.00 L74.00,206.00 Z" fill="#d0062f"/>
<circle cx="70.99" cy="236.17" r="1.55" fill="#d0062f"/>
<circle cx="74.54" cy="231.33" r="1.55" fill="#d0062f"/>
<circle cx="75.79" cy="242.49" r="1.55" fill="#d0062f"/>
<circle cx="73.16" cy="218.69" r="1.55" fill="#d0062f"/>
<circle cx="72.61" cy="234.98" r="1.55" fill="#d0062f"/>
<circle cx="75.30" cy="229.55" r="1.55" fill="#d0062f"/>
<circle cx="71.58" cy="240.51" r="1.55" fill="#d0062f"/>
<circle cx="73.80" cy="225.40" r="1.55" fill="#d0062f"/>
<circle cx="77.36" cy="237.45" r="1.55" fill="#d0062f"/>
<circle cx="71.52" cy="232.71" r="1.55" fill="#d0062f"/>
<circle cx="73.98" cy="245.35" r="1.55" fill="#d0062f"/>
<circle cx="73.70" cy="206.15" r="1.55" fill="#d0062f"/>
<circle cx="68.43" cy="232.71" r="1.55" fill="#d0062f"/>
<circle cx="73.01" cy="225.50" r="1.55" fill="#d0062f"/>
<circle cx="75.58" cy="237.45" r="1.55" fill="#d0062f"/>
<circle cx="73.18" cy="218.99" r="1.55" fill="#d0062f"/>
<circle cx="73.21" cy="234.98" r="1.55" fill="#d0062f"/>
<circle cx="75.64" cy="229.65" r="1.55" fill="#d0062f"/>
<circle cx="71.92" cy="240.51" r="1.55" fill="#d0062f"/>
<circle cx="73.72" cy="213.46" r="1.55" fill="#d0062f"/>
<circle cx="78.81" cy="233.90" r="1.55" fill="#d0062f"/>
<circle cx="71.16" cy="227.68" r="1.55" fill="#d0062f"/>
<circle cx="72.72" cy="238.93" r="1.55" fill="#d0062f"/>
<circle cx="74.34" cy="222.74" r="1.55" fill="#d0062f"/>
<circle cx="69.86" cy="236.17" r="1.55" fill="#d0062f"/>
<circle cx="73.67" cy="231.33" r="1.55" fill="#d0062f"/>
<circle cx="75.28" cy="242.59" r="1.55" fill="#d0062f"/>
<circle cx="73.70" cy="210.00" r="1.55" fill="#d0062f"/>
<circle cx="74.97" cy="233.30" r="1.55" fill="#d0062f"/>
<circle cx="75.97" cy="226.59" r="1.55" fill="#d0062f"/>
<circle cx="69.80" cy="238.14" r="1.55" fill="#d0062f"/>
<circle cx="73.54" cy="220.96" r="1.55" fill="#d0062f"/>
<circle cx="76.72" cy="235.58" r="1.55" fill="#d0062f"/>
<circle cx="71.42" cy="230.54" r="1.55" fill="#d0062f"/>
<circle cx="73.90" cy="241.50" r="1.55" fill="#d0062f"/>
<circle cx="73.98" cy="216.42" r="1.55" fill="#d0062f"/>
<circle cx="71.35" cy="234.49" r="1.55" fill="#d0062f"/>
<circle cx="74.60" cy="228.76" r="1.55" fill="#d0062f"/>
<circle cx="77.34" cy="239.72" r="1.55" fill="#d0062f"/>
<circle cx="71.90" cy="224.22" r="1.55" fill="#d0062f"/>
<circle cx="72.17" cy="236.86" r="1.55" fill="#d0062f"/>
<circle cx="75.61" cy="232.02" r="1.55" fill="#d0062f"/>
<circle cx="72.41" cy="243.87" r="1.55" fill="#d0062f"/>
<circle cx="73.70" cy="208.02" r="1.55" fill="#d0062f"/>
<circle cx="77.15" cy="233.01" r="1.55" fill="#d0062f"/>
<circle cx="72.47" cy="226.10" r="1.55" fill="#d0062f"/>
<circle cx="74.52" cy="237.85" r="1.55" fill="#d0062f"/>
<circle cx="74.43" cy="219.97" r="1.55" fill="#d0062f"/>
<circle cx="68.48" cy="235.28" r="1.55" fill="#d0062f"/>
<circle cx="73.70" cy="199.60" r="1.55" fill="#d0062f"/>
<circle cx="73.70" cy="249.20" r="1.55" fill="#d0062f"/>
<text x="101.13" y="173.7" font-size="11.5" font-weight="bold" class="L">G</text>
<text transform="translate(109.1,225.45000000000002) rotate(-90) scale(0.8,1)" text-anchor="middle" font-size="8.4" class="yl">TNFα (log10, pg/mL)</text>
<path d="M139,184.1 V266.6 H188.8" fill="none" stroke="#111" stroke-width="1.15"/>
<path d="M135.6,187.90 H139" stroke="#111" stroke-width="1.1"/>
<text transform="translate(133.8,190.40) scale(0.95,1)" text-anchor="end" font-size="8.2" class="tk">1000</text>
<path d="M135.6,214.13 H139" stroke="#111" stroke-width="1.1"/>
<text transform="translate(133.8,216.63) scale(0.95,1)" text-anchor="end" font-size="8.2" class="tk">100</text>
<path d="M135.6,240.37 H139" stroke="#111" stroke-width="1.1"/>
<text transform="translate(133.8,242.87) scale(0.95,1)" text-anchor="end" font-size="8.2" class="tk">10</text>
<path d="M135.6,266.60 H139" stroke="#111" stroke-width="1.1"/>
<text transform="translate(132.7,269.10) scale(0.95,1)" text-anchor="end" font-size="8.2" class="tk">1</text>
<path d="M153.6,266.6 V269.5" stroke="#111" stroke-width="1.1"/>
<path d="M175.0,266.6 V269.5" stroke="#111" stroke-width="1.1"/>
<text transform="translate(158.0,277.30000000000007) rotate(-45) scale(0.95,1)" text-anchor="end" font-size="8.6">&lt;13,500</text>
<text transform="translate(179.4,277.30000000000007) rotate(-45) scale(0.95,1)" text-anchor="end" font-size="8.6">≥13,500</text>
<text transform="translate(164.3,308.30000000000007) scale(0.63,1)" text-anchor="middle" font-size="9.4" letter-spacing="0.5" class="xl">mHLA-DR D-7 (AB/C)</text>
<text transform="translate(163.4,181.0) scale(1.05,1)" text-anchor="middle" font-size="7.8" class="pv">p = 0.358</text>
<text x="164.3" y="191.6" text-anchor="middle" font-size="7.4">ns</text>
<path d="M153.6,204.6 V194.3 H175.0 V199.7" fill="none" stroke="#262626" stroke-width="1.1"/>
<path d="M153.6,208.7 V216.4 M153.6,241.6 V241.6" stroke="#2a2a2a" stroke-width="0.9"/>
<rect x="147.1" y="216.4" width="13.0" height="25.19999999999999" fill="#97b6d6" stroke="#4f7aa6" stroke-width="0.5"/>
<path d="M147.1,226.4 H160.1" stroke="#111" stroke-width="1.2"/>
<path d="M150.2,208.7 H157.0 M150.2,241.6 H157.0" stroke="#123052" stroke-width="1.3"/>
<circle cx="151.80" cy="208.70" r="1.55" fill="#133860"/>
<circle cx="153.60" cy="210.80" r="1.55" fill="#133860"/>
<circle cx="153.10" cy="212.80" r="1.55" fill="#133860"/>
<circle cx="153.10" cy="217.50" r="1.55" fill="#133860"/>
<circle cx="153.10" cy="220.20" r="1.55" fill="#133860"/>
<circle cx="153.10" cy="222.20" r="1.55" fill="#133860"/>
<circle cx="153.10" cy="229.50" r="1.55" fill="#133860"/>
<circle cx="147.60" cy="241.30" r="1.55" fill="#133860"/>
<circle cx="151.80" cy="241.30" r="1.55" fill="#133860"/>
<circle cx="154.40" cy="241.60" r="1.55" fill="#133860"/>
<circle cx="156.40" cy="241.30" r="1.55" fill="#133860"/>
<circle cx="159.60" cy="241.30" r="1.55" fill="#133860"/>
<path d="M175.0,203.7 V224 M175.0,240 V249.5" stroke="#2a2a2a" stroke-width="0.9"/>
<rect x="170.0" y="224" width="10" height="16" fill="#ef9aab" stroke="#d8506c" stroke-width="0.5"/>
<path d="M170.0,233 H180.0" stroke="#111" stroke-width="1.2"/>
<path d="M171.6,203.7 H178.4 M171.6,249.5 H178.4" stroke="#a8082c" stroke-width="1.3"/>
<path d="M174.70,206.00 L174.70,209.00 L174.60,212.00 L174.00,215.00 L173.40,218.00 L172.80,221.00 L172.20,224.00 L171.60,227.00 L170.40,230.00 L169.20,233.00 L168.60,236.00 L169.20,239.00 L171.00,242.00 L172.80,245.00 L174.60,248.00 L174.70,249.50 L175.30,249.50 L175.40,248.00 L177.20,245.00 L179.00,242.00 L180.80,239.00 L181.40,236.00 L180.80,233.00 L179.60,230.00 L178.40,227.00 L177.80,224.00 L177.20,221.00 L176.60,218.00 L176.00,215.00 L175.40,212.00 L175.30,209.00 L175.30,206.00 Z" fill="#d0062f"/>
<circle cx="176.13" cy="234.76" r="1.55" fill="#d0062f"/>
<circle cx="178.96" cy="227.04" r="1.55" fill="#d0062f"/>
<circle cx="170.03" cy="241.72" r="1.55" fill="#d0062f"/>
<circle cx="174.17" cy="221.71" r="1.55" fill="#d0062f"/>
<circle cx="178.31" cy="238.03" r="1.55" fill="#d0062f"/>
<circle cx="170.64" cy="231.28" r="1.55" fill="#d0062f"/>
<circle cx="175.00" cy="247.49" r="1.55" fill="#d0062f"/>
<circle cx="175.80" cy="208.77" r="1.55" fill="#d0062f"/>
<circle cx="171.87" cy="232.59" r="1.55" fill="#d0062f"/>
<circle cx="175.94" cy="223.78" r="1.55" fill="#d0062f"/>
<circle cx="181.27" cy="239.33" r="1.55" fill="#d0062f"/>
<circle cx="172.58" cy="217.69" r="1.55" fill="#d0062f"/>
<circle cx="173.85" cy="235.96" r="1.55" fill="#d0062f"/>
<circle cx="177.86" cy="228.67" r="1.55" fill="#d0062f"/>
<circle cx="172.30" cy="243.46" r="1.55" fill="#d0062f"/>
<circle cx="175.17" cy="213.78" r="1.55" fill="#d0062f"/>
<circle cx="180.57" cy="234.33" r="1.55" fill="#d0062f"/>
<circle cx="173.26" cy="226.39" r="1.55" fill="#d0062f"/>
<circle cx="176.76" cy="241.18" r="1.55" fill="#d0062f"/>
<circle cx="178.50" cy="220.95" r="1.55" fill="#d0062f"/>
<circle cx="167.96" cy="237.59" r="1.55" fill="#d0062f"/>
<circle cx="173.29" cy="230.74" r="1.55" fill="#d0062f"/>
<circle cx="176.08" cy="246.51" r="1.55" fill="#d0062f"/>
<circle cx="173.76" cy="211.49" r="1.55" fill="#d0062f"/>
<circle cx="174.65" cy="233.46" r="1.55" fill="#d0062f"/>
<circle cx="177.76" cy="225.09" r="1.55" fill="#d0062f"/>
<circle cx="171.79" cy="240.20" r="1.55" fill="#d0062f"/>
<circle cx="175.58" cy="219.32" r="1.55" fill="#d0062f"/>
<circle cx="181.47" cy="236.72" r="1.55" fill="#d0062f"/>
<circle cx="169.87" cy="229.76" r="1.55" fill="#d0062f"/>
<circle cx="174.27" cy="244.88" r="1.55" fill="#d0062f"/>
<circle cx="176.23" cy="215.84" r="1.55" fill="#d0062f"/>
<circle cx="170.10" cy="235.09" r="1.55" fill="#d0062f"/>
<circle cx="175.13" cy="227.59" r="1.55" fill="#d0062f"/>
<circle cx="178.66" cy="242.27" r="1.55" fill="#d0062f"/>
<circle cx="173.36" cy="222.37" r="1.55" fill="#d0062f"/>
<circle cx="176.82" cy="238.46" r="1.55" fill="#d0062f"/>
<circle cx="181.15" cy="231.72" r="1.55" fill="#d0062f"/>
<circle cx="174.05" cy="248.79" r="1.55" fill="#d0062f"/>
<circle cx="174.91" cy="206.60" r="1.55" fill="#d0062f"/>
<circle cx="178.73" cy="232.05" r="1.55" fill="#d0062f"/>
<circle cx="172.72" cy="222.91" r="1.55" fill="#d0062f"/>
<circle cx="175.73" cy="238.79" r="1.55" fill="#d0062f"/>
<circle cx="177.11" cy="216.60" r="1.55" fill="#d0062f"/>
<circle cx="172.34" cy="235.42" r="1.55" fill="#d0062f"/>
<circle cx="176.69" cy="228.02" r="1.55" fill="#d0062f"/>
<circle cx="179.96" cy="242.70" r="1.55" fill="#d0062f"/>
<circle cx="173.13" cy="212.36" r="1.55" fill="#d0062f"/>
<circle cx="172.70" cy="233.79" r="1.55" fill="#d0062f"/>
<circle cx="176.62" cy="225.63" r="1.55" fill="#d0062f"/>
<circle cx="170.22" cy="240.53" r="1.55" fill="#d0062f"/>
<circle cx="174.69" cy="219.97" r="1.55" fill="#d0062f"/>
<circle cx="179.41" cy="237.05" r="1.55" fill="#d0062f"/>
<circle cx="171.76" cy="230.09" r="1.55" fill="#d0062f"/>
<circle cx="175.45" cy="245.42" r="1.55" fill="#d0062f"/>
<circle cx="176.13" cy="209.86" r="1.55" fill="#d0062f"/>
<circle cx="168.49" cy="232.92" r="1.55" fill="#d0062f"/>
<circle cx="173.98" cy="224.32" r="1.55" fill="#d0062f"/>
<circle cx="177.94" cy="239.66" r="1.55" fill="#d0062f"/>
<circle cx="172.88" cy="218.34" r="1.55" fill="#d0062f"/>
<circle cx="174.88" cy="236.29" r="1.55" fill="#d0062f"/>
<circle cx="178.70" cy="229.11" r="1.55" fill="#d0062f"/>
<circle cx="173.05" cy="244.01" r="1.55" fill="#d0062f"/>
<circle cx="175.49" cy="214.65" r="1.55" fill="#d0062f"/>
<circle cx="181.61" cy="234.66" r="1.55" fill="#d0062f"/>
<circle cx="171.01" cy="226.83" r="1.55" fill="#d0062f"/>
<circle cx="174.07" cy="241.62" r="1.55" fill="#d0062f"/>
<circle cx="176.88" cy="221.50" r="1.55" fill="#d0062f"/>
<circle cx="170.47" cy="237.92" r="1.55" fill="#d0062f"/>
<circle cx="175.38" cy="231.07" r="1.55" fill="#d0062f"/>
<circle cx="176.65" cy="247.27" r="1.55" fill="#d0062f"/>
<circle cx="174.57" cy="208.34" r="1.55" fill="#d0062f"/>
<circle cx="176.98" cy="232.48" r="1.55" fill="#d0062f"/>
<circle cx="178.95" cy="223.67" r="1.55" fill="#d0062f"/>
<circle cx="168.23" cy="239.22" r="1.55" fill="#d0062f"/>
<circle cx="174.16" cy="217.47" r="1.55" fill="#d0062f"/>
<circle cx="177.97" cy="235.85" r="1.55" fill="#d0062f"/>
<circle cx="171.01" cy="228.57" r="1.55" fill="#d0062f"/>
<circle cx="174.70" cy="243.36" r="1.55" fill="#d0062f"/>
<circle cx="176.29" cy="213.56" r="1.55" fill="#d0062f"/>
<circle cx="171.19" cy="234.22" r="1.55" fill="#d0062f"/>
<circle cx="175.74" cy="226.17" r="1.55" fill="#d0062f"/>
<circle cx="179.94" cy="241.07" r="1.55" fill="#d0062f"/>
<circle cx="171.85" cy="220.74" r="1.55" fill="#d0062f"/>
<circle cx="173.40" cy="237.48" r="1.55" fill="#d0062f"/>
<circle cx="177.86" cy="230.63" r="1.55" fill="#d0062f"/>
<circle cx="175.00" cy="203.70" r="1.55" fill="#d0062f"/>
<text x="210.33" y="173.7" font-size="11.5" font-weight="bold" class="L">H</text>
<text transform="translate(217.9,225.45000000000002) rotate(-90) scale(0.8,1)" text-anchor="middle" font-size="8.4" class="yl">IFNγ (log10, pg/mL)</text>
<path d="M243.8,184.1 V266.6 H294" fill="none" stroke="#111" stroke-width="1.15"/>
<path d="M240.4,187.90 H243.8" stroke="#111" stroke-width="1.1"/>
<text transform="translate(238.60000000000002,190.40) scale(0.95,1)" text-anchor="end" font-size="8.2" class="tk">100</text>
<path d="M240.4,214.13 H243.8" stroke="#111" stroke-width="1.1"/>
<text transform="translate(238.60000000000002,216.63) scale(0.95,1)" text-anchor="end" font-size="8.2" class="tk">10</text>
<path d="M240.4,240.37 H243.8" stroke="#111" stroke-width="1.1"/>
<text transform="translate(237.5,242.87) scale(0.95,1)" text-anchor="end" font-size="8.2" class="tk">1</text>
<path d="M240.4,266.60 H243.8" stroke="#111" stroke-width="1.1"/>
<text transform="translate(237.5,269.10) scale(0.95,1)" text-anchor="end" font-size="8.2" class="tk">0.1</text>
<path d="M258.0,266.6 V269.5" stroke="#111" stroke-width="1.1"/>
<path d="M279.4,266.6 V269.5" stroke="#111" stroke-width="1.1"/>
<text transform="translate(262.4,277.30000000000007) rotate(-45) scale(0.95,1)" text-anchor="end" font-size="8.6">&lt;13,500</text>
<text transform="translate(283.79999999999995,277.30000000000007) rotate(-45) scale(0.95,1)" text-anchor="end" font-size="8.6">≥13,500</text>
<text transform="translate(268.7,308.30000000000007) scale(0.63,1)" text-anchor="middle" font-size="9.4" letter-spacing="0.5" class="xl">mHLA-DR D-7 (AB/C)</text>
<text transform="translate(268.1,179.1) scale(1.05,1)" text-anchor="middle" font-size="7.8" class="pv">p = 0.329</text>
<text x="268.7" y="189.6" text-anchor="middle" font-size="7.4">ns</text>
<path d="M258.0,226.4 V192.3 H279.4 V196.8" fill="none" stroke="#262626" stroke-width="1.1"/>
<path d="M258.0,229.4 V229.8 M258.0,259.2 V259.2" stroke="#2a2a2a" stroke-width="0.9"/>
<rect x="251.5" y="229.8" width="13.0" height="29.399999999999977" fill="#97b6d6" stroke="#4f7aa6" stroke-width="0.5"/>
<path d="M251.5,240.9 H264.5" stroke="#111" stroke-width="1.2"/>
<path d="M254.6,229.4 H261.4 M254.6,259.2 H261.4" stroke="#123052" stroke-width="1.3"/>
<circle cx="253.50" cy="230.80" r="1.55" fill="#133860"/>
<circle cx="258.00" cy="230.50" r="1.55" fill="#133860"/>
<circle cx="262.00" cy="229.20" r="1.55" fill="#133860"/>
<circle cx="253.00" cy="238.20" r="1.55" fill="#133860"/>
<circle cx="252.70" cy="240.90" r="1.55" fill="#133860"/>
<circle cx="258.00" cy="241.20" r="1.55" fill="#133860"/>
<circle cx="262.50" cy="240.60" r="1.55" fill="#133860"/>
<circle cx="258.00" cy="251.00" r="1.55" fill="#133860"/>
<circle cx="253.50" cy="258.50" r="1.55" fill="#133860"/>
<circle cx="258.00" cy="258.50" r="1.55" fill="#133860"/>
<circle cx="262.20" cy="258.50" r="1.55" fill="#133860"/>
<path d="M279.4,200.8 V226.4 M279.4,259.5 V259.5" stroke="#2a2a2a" stroke-width="0.9"/>
<rect x="272.29999999999995" y="226.4" width="14.2" height="33.099999999999994" fill="#ef9aab" stroke="#d8506c" stroke-width="0.5"/>
<path d="M272.29999999999995,238.5 H286.5" stroke="#111" stroke-width="1.2"/>
<path d="M276.0,200.8 H282.79999999999995 M276.0,259.5 H282.79999999999995" stroke="#a8082c" stroke-width="1.3"/>
<path d="M279.10,203.00 L279.10,226.00 L278.64,240.00 L278.64,250.00 L279.10,256.00 L279.70,256.00 L280.16,250.00 L280.16,240.00 L279.70,226.00 L279.70,203.00 Z" fill="#d0062f"/>
<circle cx="281.54" cy="243.35" r="1.55" fill="#d0062f"/>
<circle cx="277.63" cy="231.42" r="1.55" fill="#d0062f"/>
<circle cx="278.94" cy="255.40" r="1.55" fill="#d0062f"/>
<circle cx="279.91" cy="203.86" r="1.55" fill="#d0062f"/>
<circle cx="278.03" cy="232.61" r="1.55" fill="#d0062f"/>
<circle cx="279.34" cy="219.10" r="1.55" fill="#d0062f"/>
<circle cx="280.78" cy="244.54" r="1.55" fill="#d0062f"/>
<circle cx="278.71" cy="211.68" r="1.55" fill="#d0062f"/>
<circle cx="279.79" cy="238.71" r="1.55" fill="#d0062f"/>
<circle cx="280.86" cy="225.99" r="1.55" fill="#d0062f"/>
<circle cx="277.55" cy="250.37" r="1.55" fill="#d0062f"/>
<circle cx="279.15" cy="207.84" r="1.55" fill="#d0062f"/>
<circle cx="280.38" cy="235.66" r="1.55" fill="#d0062f"/>
<circle cx="278.36" cy="222.54" r="1.55" fill="#d0062f"/>
<circle cx="279.48" cy="247.45" r="1.55" fill="#d0062f"/>
<circle cx="280.45" cy="215.39" r="1.55" fill="#d0062f"/>
<circle cx="278.50" cy="241.62" r="1.55" fill="#d0062f"/>
<circle cx="279.87" cy="229.30" r="1.55" fill="#d0062f"/>
<circle cx="281.18" cy="253.42" r="1.55" fill="#d0062f"/>
<circle cx="278.39" cy="205.85" r="1.55" fill="#d0062f"/>
<circle cx="279.17" cy="234.07" r="1.55" fill="#d0062f"/>
<circle cx="280.29" cy="220.82" r="1.55" fill="#d0062f"/>
<circle cx="278.17" cy="246.00" r="1.55" fill="#d0062f"/>
<circle cx="279.56" cy="213.53" r="1.55" fill="#d0062f"/>
<circle cx="281.10" cy="240.17" r="1.55" fill="#d0062f"/>
<circle cx="278.80" cy="227.71" r="1.55" fill="#d0062f"/>
<circle cx="280.08" cy="251.83" r="1.55" fill="#d0062f"/>
<circle cx="280.77" cy="209.69" r="1.55" fill="#d0062f"/>
<circle cx="277.30" cy="237.12" r="1.55" fill="#d0062f"/>
<circle cx="278.84" cy="224.27" r="1.55" fill="#d0062f"/>
<circle cx="280.13" cy="248.91" r="1.55" fill="#d0062f"/>
<circle cx="278.21" cy="217.24" r="1.55" fill="#d0062f"/>
<circle cx="279.16" cy="243.08" r="1.55" fill="#d0062f"/>
<circle cx="280.45" cy="231.02" r="1.55" fill="#d0062f"/>
<circle cx="278.40" cy="255.01" r="1.55" fill="#d0062f"/>
<circle cx="279.54" cy="204.79" r="1.55" fill="#d0062f"/>
<circle cx="280.94" cy="233.41" r="1.55" fill="#d0062f"/>
<circle cx="277.93" cy="219.89" r="1.55" fill="#d0062f"/>
<circle cx="278.83" cy="245.20" r="1.55" fill="#d0062f"/>
<circle cx="279.99" cy="212.61" r="1.55" fill="#d0062f"/>
<circle cx="277.87" cy="239.37" r="1.55" fill="#d0062f"/>
<circle cx="279.34" cy="226.92" r="1.55" fill="#d0062f"/>
<circle cx="280.73" cy="251.03" r="1.55" fill="#d0062f"/>
<circle cx="278.75" cy="208.76" r="1.55" fill="#d0062f"/>
<circle cx="279.79" cy="236.46" r="1.55" fill="#d0062f"/>
<circle cx="280.82" cy="223.47" r="1.55" fill="#d0062f"/>
<circle cx="277.53" cy="248.12" r="1.55" fill="#d0062f"/>
<circle cx="279.12" cy="216.32" r="1.55" fill="#d0062f"/>
<circle cx="280.46" cy="242.29" r="1.55" fill="#d0062f"/>
<circle cx="278.23" cy="230.10" r="1.55" fill="#d0062f"/>
<circle cx="279.47" cy="254.21" r="1.55" fill="#d0062f"/>
<circle cx="280.33" cy="206.78" r="1.55" fill="#d0062f"/>
<circle cx="278.58" cy="234.87" r="1.55" fill="#d0062f"/>
<circle cx="279.82" cy="221.75" r="1.55" fill="#d0062f"/>
<circle cx="281.44" cy="246.66" r="1.55" fill="#d0062f"/>
<circle cx="277.96" cy="214.46" r="1.55" fill="#d0062f"/>
<circle cx="278.72" cy="240.83" r="1.55" fill="#d0062f"/>
<circle cx="280.05" cy="228.51" r="1.55" fill="#d0062f"/>
<circle cx="279.40" cy="200.80" r="1.55" fill="#d0062f"/>
<circle cx="273.90" cy="259.00" r="1.55" fill="#d0062f"/>
<circle cx="276.60" cy="259.00" r="1.55" fill="#d0062f"/>
<circle cx="279.40" cy="259.00" r="1.55" fill="#d0062f"/>
<circle cx="282.20" cy="259.00" r="1.55" fill="#d0062f"/>
<circle cx="284.90" cy="259.00" r="1.55" fill="#d0062f"/>
<text x="307.23" y="173.7" font-size="11.5" font-weight="bold" class="L">I</text>
<text transform="translate(314.70000000000005,225.45000000000002) rotate(-90) scale(0.8,1)" text-anchor="middle" font-size="8.4" class="yl">IL-2 sR (log10, pg/mL)</text>
<path d="M353.5,184.1 V266.6 H403.6" fill="none" stroke="#111" stroke-width="1.15"/>
<path d="M350.1,187.90 H353.5" stroke="#111" stroke-width="1.1"/>
<text transform="translate(348.3,190.40) scale(0.95,1)" text-anchor="end" font-size="8.2" class="tk">100000</text>
<path d="M350.1,214.13 H353.5" stroke="#111" stroke-width="1.1"/>
<text transform="translate(348.3,216.63) scale(0.95,1)" text-anchor="end" font-size="8.2" class="tk">10000</text>
<path d="M350.1,240.37 H353.5" stroke="#111" stroke-width="1.1"/>
<text transform="translate(348.3,242.87) scale(0.95,1)" text-anchor="end" font-size="8.2" class="tk">1000</text>
<path d="M350.1,266.60 H353.5" stroke="#111" stroke-width="1.1"/>
<text transform="translate(348.3,269.10) scale(0.95,1)" text-anchor="end" font-size="8.2" class="tk">100</text>
<path d="M367.7,266.6 V269.5" stroke="#111" stroke-width="1.1"/>
<path d="M389.4,266.6 V269.5" stroke="#111" stroke-width="1.1"/>
<text transform="translate(372.09999999999997,277.30000000000007) rotate(-45) scale(0.95,1)" text-anchor="end" font-size="8.6">&lt;13,500</text>
<text transform="translate(393.79999999999995,277.30000000000007) rotate(-45) scale(0.95,1)" text-anchor="end" font-size="8.6">≥13,500</text>
<text transform="translate(378.54999999999995,308.30000000000007) scale(0.63,1)" text-anchor="middle" font-size="9.4" letter-spacing="0.5" class="xl">mHLA-DR D-7 (AB/C)</text>
<text transform="translate(378.4,183.2) scale(1.05,1)" text-anchor="middle" font-size="7.8" class="pv">p = 0.078</text>
<text x="378.54999999999995" y="194.0" text-anchor="middle" font-size="7.4">ns</text>
<path d="M367.7,201.7 V197.6 H389.4 V201.7" fill="none" stroke="#262626" stroke-width="1.1"/>
<path d="M367.7,205.9 V219.4 M367.7,230.3 V238.4" stroke="#2a2a2a" stroke-width="0.9"/>
<rect x="361.2" y="219.4" width="13.0" height="10.900000000000006" fill="#97b6d6" stroke="#4f7aa6" stroke-width="0.5"/>
<path d="M361.2,224.1 H374.2" stroke="#111" stroke-width="1.2"/>
<path d="M364.3,205.9 H371.09999999999997 M364.3,238.4 H371.09999999999997" stroke="#123052" stroke-width="1.3"/>
<circle cx="367.70" cy="205.90" r="1.55" fill="#133860"/>
<circle cx="367.90" cy="217.40" r="1.55" fill="#133860"/>
<circle cx="366.00" cy="219.40" r="1.55" fill="#133860"/>
<circle cx="369.90" cy="221.30" r="1.55" fill="#133860"/>
<circle cx="365.00" cy="222.60" r="1.55" fill="#133860"/>
<circle cx="367.70" cy="224.10" r="1.55" fill="#133860"/>
<circle cx="366.00" cy="225.80" r="1.55" fill="#133860"/>
<circle cx="369.90" cy="225.80" r="1.55" fill="#133860"/>
<circle cx="365.00" cy="228.40" r="1.55" fill="#133860"/>
<circle cx="369.90" cy="228.40" r="1.55" fill="#133860"/>
<circle cx="367.90" cy="234.20" r="1.55" fill="#133860"/>
<circle cx="367.70" cy="238.40" r="1.55" fill="#133860"/>
<path d="M389.4,206.4 V224 M389.4,236 V244.5" stroke="#2a2a2a" stroke-width="0.9"/>
<rect x="383.9" y="224" width="11" height="12" fill="#ef9aab" stroke="#d8506c" stroke-width="0.5"/>
<path d="M383.9,230 H394.9" stroke="#111" stroke-width="1.2"/>
<path d="M386.0,206.4 H392.79999999999995 M386.0,244.5 H392.79999999999995" stroke="#a8082c" stroke-width="1.3"/>
<path d="M389.10,210.00 L389.10,214.00 L389.10,216.00 L389.00,219.00 L387.80,222.00 L386.60,225.00 L384.20,228.00 L383.00,231.00 L383.60,234.00 L386.00,237.00 L386.60,240.00 L387.80,243.00 L389.10,244.50 L389.70,244.50 L391.00,243.00 L392.20,240.00 L392.80,237.00 L395.20,234.00 L395.80,231.00 L394.60,228.00 L392.20,225.00 L391.00,222.00 L389.80,219.00 L389.70,216.00 L389.70,214.00 L389.70,210.00 Z" fill="#d0062f"/>
<circle cx="383.14" cy="230.92" r="1.55" fill="#d0062f"/>
<circle cx="388.81" cy="225.14" r="1.55" fill="#d0062f"/>
<circle cx="392.25" cy="236.35" r="1.55" fill="#d0062f"/>
<circle cx="388.05" cy="220.22" r="1.55" fill="#d0062f"/>
<circle cx="390.04" cy="233.50" r="1.55" fill="#d0062f"/>
<circle cx="394.50" cy="228.33" r="1.55" fill="#d0062f"/>
<circle cx="387.91" cy="240.14" r="1.55" fill="#d0062f"/>
<circle cx="389.81" cy="216.43" r="1.55" fill="#d0062f"/>
<circle cx="396.82" cy="232.21" r="1.55" fill="#d0062f"/>
<circle cx="383.73" cy="226.86" r="1.55" fill="#d0062f"/>
<circle cx="387.91" cy="238.16" r="1.55" fill="#d0062f"/>
<circle cx="390.56" cy="222.89" r="1.55" fill="#d0062f"/>
<circle cx="384.33" cy="234.80" r="1.55" fill="#d0062f"/>
<circle cx="388.65" cy="229.71" r="1.55" fill="#d0062f"/>
<circle cx="391.25" cy="242.39" r="1.55" fill="#d0062f"/>
<circle cx="388.72" cy="214.18" r="1.55" fill="#d0062f"/>
<circle cx="390.33" cy="231.61" r="1.55" fill="#d0062f"/>
<circle cx="393.42" cy="226.09" r="1.55" fill="#d0062f"/>
<circle cx="385.00" cy="237.21" r="1.55" fill="#d0062f"/>
<circle cx="388.67" cy="221.69" r="1.55" fill="#d0062f"/>
<circle cx="392.38" cy="234.11" r="1.55" fill="#d0062f"/>
<circle cx="384.51" cy="229.02" r="1.55" fill="#d0062f"/>
<circle cx="389.29" cy="241.18" r="1.55" fill="#d0062f"/>
<circle cx="390.51" cy="218.50" r="1.55" fill="#d0062f"/>
<circle cx="385.87" cy="232.81" r="1.55" fill="#d0062f"/>
<circle cx="390.63" cy="227.64" r="1.55" fill="#d0062f"/>
<circle cx="393.20" cy="239.11" r="1.55" fill="#d0062f"/>
<circle cx="386.13" cy="224.10" r="1.55" fill="#d0062f"/>
<circle cx="388.34" cy="235.49" r="1.55" fill="#d0062f"/>
<circle cx="393.11" cy="230.31" r="1.55" fill="#d0062f"/>
<circle cx="388.02" cy="243.68" r="1.55" fill="#d0062f"/>
<circle cx="389.44" cy="210.99" r="1.55" fill="#d0062f"/>
<circle cx="394.94" cy="230.83" r="1.55" fill="#d0062f"/>
<circle cx="387.73" cy="224.88" r="1.55" fill="#d0062f"/>
<circle cx="390.89" cy="236.09" r="1.55" fill="#d0062f"/>
<circle cx="391.41" cy="219.79" r="1.55" fill="#d0062f"/>
<circle cx="382.28" cy="233.33" r="1.55" fill="#d0062f"/>
<circle cx="387.39" cy="228.16" r="1.55" fill="#d0062f"/>
<circle cx="390.96" cy="239.89" r="1.55" fill="#d0062f"/>
<circle cx="388.48" cy="215.82" r="1.55" fill="#d0062f"/>
<circle cx="388.81" cy="232.04" r="1.55" fill="#d0062f"/>
<circle cx="392.69" cy="226.69" r="1.55" fill="#d0062f"/>
<circle cx="386.97" cy="237.90" r="1.55" fill="#d0062f"/>
<circle cx="389.88" cy="222.64" r="1.55" fill="#d0062f"/>
<circle cx="394.87" cy="234.62" r="1.55" fill="#d0062f"/>
<circle cx="382.93" cy="229.54" r="1.55" fill="#d0062f"/>
<circle cx="388.63" cy="242.04" r="1.55" fill="#d0062f"/>
<circle cx="389.92" cy="213.58" r="1.55" fill="#d0062f"/>
<circle cx="384.21" cy="231.43" r="1.55" fill="#d0062f"/>
<circle cx="389.38" cy="225.83" r="1.55" fill="#d0062f"/>
<circle cx="392.63" cy="236.95" r="1.55" fill="#d0062f"/>
<circle cx="388.16" cy="221.34" r="1.55" fill="#d0062f"/>
<circle cx="390.99" cy="233.93" r="1.55" fill="#d0062f"/>
<circle cx="395.58" cy="228.85" r="1.55" fill="#d0062f"/>
<circle cx="386.23" cy="240.92" r="1.55" fill="#d0062f"/>
<circle cx="389.15" cy="217.98" r="1.55" fill="#d0062f"/>
<circle cx="393.27" cy="232.64" r="1.55" fill="#d0062f"/>
<circle cx="385.70" cy="227.47" r="1.55" fill="#d0062f"/>
<circle cx="389.72" cy="238.85" r="1.55" fill="#d0062f"/>
<circle cx="392.18" cy="223.84" r="1.55" fill="#d0062f"/>
<circle cx="387.09" cy="235.31" r="1.55" fill="#d0062f"/>
<circle cx="391.60" cy="230.14" r="1.55" fill="#d0062f"/>
<circle cx="391.93" cy="243.34" r="1.55" fill="#d0062f"/>
<circle cx="388.46" cy="212.37" r="1.55" fill="#d0062f"/>
<circle cx="387.25" cy="231.09" r="1.55" fill="#d0062f"/>
<circle cx="389.40" cy="206.40" r="1.55" fill="#d0062f"/>
<circle cx="389.40" cy="208.00" r="1.55" fill="#d0062f"/>
<text x="416.83" y="173.7" font-size="11.5" font-weight="bold" class="L">J</text>
<text transform="translate(430.3,225.45000000000002) rotate(-90) scale(0.8,1)" text-anchor="middle" font-size="8.4" class="yl">IL-10 (log10, pg/mL)</text>
<path d="M463.5,184.1 V266.6 H513.4" fill="none" stroke="#111" stroke-width="1.15"/>
<path d="M460.1,187.90 H463.5" stroke="#111" stroke-width="1.1"/>
<text transform="translate(458.3,190.40) scale(0.95,1)" text-anchor="end" font-size="8.2" class="tk">10000</text>
<path d="M460.1,207.58 H463.5" stroke="#111" stroke-width="1.1"/>
<text transform="translate(458.3,210.08) scale(0.95,1)" text-anchor="end" font-size="8.2" class="tk">1000</text>
<path d="M460.1,227.25 H463.5" stroke="#111" stroke-width="1.1"/>
<text transform="translate(458.3,229.75) scale(0.95,1)" text-anchor="end" font-size="8.2" class="tk">100</text>
<path d="M460.1,246.93 H463.5" stroke="#111" stroke-width="1.1"/>
<text transform="translate(458.3,249.43) scale(0.95,1)" text-anchor="end" font-size="8.2" class="tk">10</text>
<path d="M460.1,266.60 H463.5" stroke="#111" stroke-width="1.1"/>
<text transform="translate(457.2,269.10) scale(0.95,1)" text-anchor="end" font-size="8.2" class="tk">1</text>
<path d="M478.3,266.6 V269.5" stroke="#111" stroke-width="1.1"/>
<path d="M499.8,266.6 V269.5" stroke="#111" stroke-width="1.1"/>
<text transform="translate(482.7,277.30000000000007) rotate(-45) scale(0.95,1)" text-anchor="end" font-size="8.6">&lt;13,500</text>
<text transform="translate(504.2,277.30000000000007) rotate(-45) scale(0.95,1)" text-anchor="end" font-size="8.6">≥13,500</text>
<text transform="translate(489.05,308.30000000000007) scale(0.63,1)" text-anchor="middle" font-size="9.4" letter-spacing="0.5" class="xl">mHLA-DR D-7 (AB/C)</text>
<text transform="translate(488.9,173.2) scale(1.05,1)" text-anchor="middle" font-size="7.8" class="pv">p = 0.084</text>
<text x="489.05" y="183.8" text-anchor="middle" font-size="7.4">ns</text>
<path d="M478.3,192 V187.6 H499.8 V198.7" fill="none" stroke="#262626" stroke-width="1.1"/>
<path d="M478.3,195.6 V234.9 M478.3,251.3 V253.5" stroke="#2a2a2a" stroke-width="0.9"/>
<rect x="471.8" y="234.9" width="13.0" height="16.400000000000006" fill="#97b6d6" stroke="#4f7aa6" stroke-width="0.5"/>
<path d="M471.8,246.2 H484.8" stroke="#111" stroke-width="1.2"/>
<path d="M474.90000000000003,195.6 H481.7 M474.90000000000003,253.5 H481.7" stroke="#123052" stroke-width="1.3"/>
<circle cx="478.30" cy="195.60" r="1.55" fill="#133860"/>
<circle cx="478.30" cy="230.00" r="1.55" fill="#133860"/>
<circle cx="478.30" cy="236.10" r="1.55" fill="#133860"/>
<circle cx="478.30" cy="239.40" r="1.55" fill="#133860"/>
<circle cx="478.30" cy="242.60" r="1.55" fill="#133860"/>
<circle cx="472.10" cy="252.60" r="1.55" fill="#133860"/>
<circle cx="484.40" cy="252.60" r="1.55" fill="#133860"/>
<circle cx="476.00" cy="253.50" r="1.55" fill="#133860"/>
<circle cx="478.00" cy="253.80" r="1.55" fill="#133860"/>
<circle cx="479.90" cy="253.50" r="1.55" fill="#133860"/>
<path d="M499.8,203 V248 M499.8,257 V263.5" stroke="#2a2a2a" stroke-width="0.9"/>
<rect x="494.8" y="248" width="10" height="9" fill="#ef9aab" stroke="#d8506c" stroke-width="0.5"/>
<path d="M494.8,252.5 H504.8" stroke="#111" stroke-width="1.2"/>
<path d="M496.40000000000003,203 H503.2 M496.40000000000003,263.5 H503.2" stroke="#a8082c" stroke-width="1.3"/>
<path d="M498.20,246.00 L495.20,249.00 L493.40,252.00 L494.60,255.00 L496.40,258.00 L498.80,261.00 L500.80,261.00 L503.20,258.00 L505.00,255.00 L506.20,252.00 L504.40,249.00 L501.40,246.00 Z" fill="#d0062f"/>
<circle cx="498.17" cy="254.72" r="1.55" fill="#d0062f"/>
<circle cx="503.06" cy="251.72" r="1.55" fill="#d0062f"/>
<circle cx="496.70" cy="258.39" r="1.55" fill="#d0062f"/>
<circle cx="499.71" cy="247.44" r="1.55" fill="#d0062f"/>
<circle cx="504.37" cy="253.93" r="1.55" fill="#d0062f"/>
<circle cx="496.45" cy="250.97" r="1.55" fill="#d0062f"/>
<circle cx="500.86" cy="257.34" r="1.55" fill="#d0062f"/>
<circle cx="505.23" cy="249.36" r="1.55" fill="#d0062f"/>
<circle cx="494.53" cy="255.54" r="1.55" fill="#d0062f"/>
<circle cx="498.51" cy="252.43" r="1.55" fill="#d0062f"/>
<circle cx="501.56" cy="259.63" r="1.55" fill="#d0062f"/>
<circle cx="497.42" cy="246.84" r="1.55" fill="#d0062f"/>
<circle cx="500.19" cy="253.52" r="1.55" fill="#d0062f"/>
<circle cx="504.84" cy="250.59" r="1.55" fill="#d0062f"/>
<circle cx="497.65" cy="256.86" r="1.55" fill="#d0062f"/>
<circle cx="501.45" cy="248.94" r="1.55" fill="#d0062f"/>
<circle cx="506.01" cy="255.09" r="1.55" fill="#d0062f"/>
<circle cx="492.31" cy="252.06" r="1.55" fill="#d0062f"/>
<circle cx="498.62" cy="258.99" r="1.55" fill="#d0062f"/>
<circle cx="501.68" cy="247.97" r="1.55" fill="#d0062f"/>
<circle cx="494.71" cy="254.31" r="1.55" fill="#d0062f"/>
<circle cx="499.29" cy="251.34" r="1.55" fill="#d0062f"/>
<circle cx="502.74" cy="257.87" r="1.55" fill="#d0062f"/>
<circle cx="496.46" cy="249.77" r="1.55" fill="#d0062f"/>
<circle cx="500.73" cy="255.96" r="1.55" fill="#d0062f"/>
<circle cx="505.96" cy="252.81" r="1.55" fill="#d0062f"/>
<circle cx="497.18" cy="260.34" r="1.55" fill="#d0062f"/>
<circle cx="499.03" cy="246.51" r="1.55" fill="#d0062f"/>
<circle cx="503.08" cy="253.33" r="1.55" fill="#d0062f"/>
<circle cx="495.25" cy="250.41" r="1.55" fill="#d0062f"/>
<circle cx="499.83" cy="256.63" r="1.55" fill="#d0062f"/>
<circle cx="503.67" cy="248.72" r="1.55" fill="#d0062f"/>
<circle cx="496.87" cy="254.91" r="1.55" fill="#d0062f"/>
<circle cx="501.57" cy="251.91" r="1.55" fill="#d0062f"/>
<circle cx="503.63" cy="258.69" r="1.55" fill="#d0062f"/>
<circle cx="495.96" cy="247.71" r="1.55" fill="#d0062f"/>
<circle cx="498.80" cy="254.12" r="1.55" fill="#d0062f"/>
<circle cx="499.80" cy="203.00" r="1.55" fill="#d0062f"/>
<circle cx="499.80" cy="222.50" r="1.55" fill="#d0062f"/>
<circle cx="499.80" cy="225.00" r="1.55" fill="#d0062f"/>
<circle cx="499.80" cy="237.50" r="1.55" fill="#d0062f"/>
<circle cx="499.80" cy="240.50" r="1.55" fill="#d0062f"/>
<circle cx="499.80" cy="243.00" r="1.55" fill="#d0062f"/>
<circle cx="499.80" cy="263.50" r="1.55" fill="#d0062f"/>
</svg>
</body></html>
